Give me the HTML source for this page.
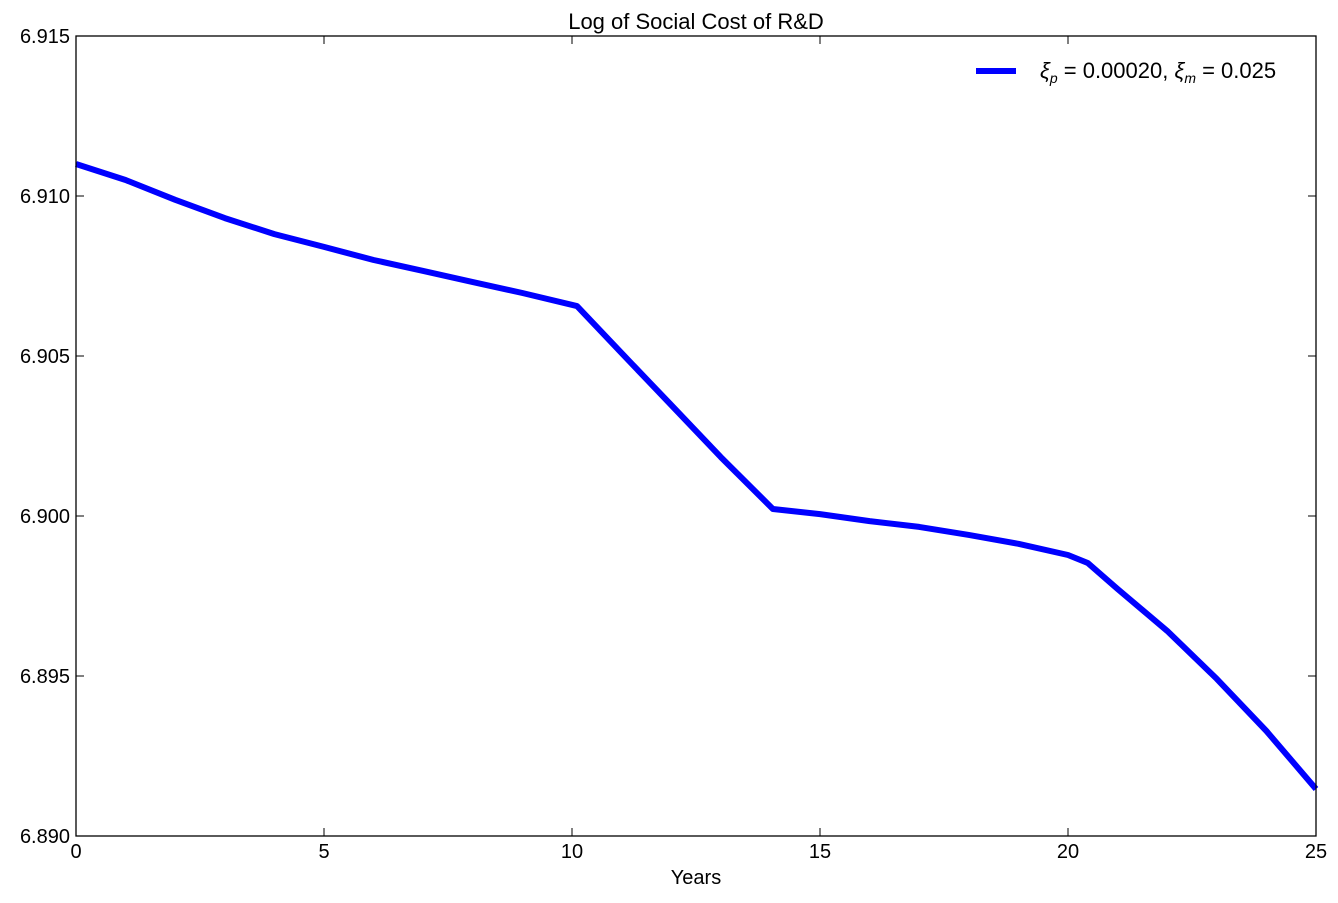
<!DOCTYPE html>
<html><head><meta charset="utf-8"><style>
body{margin:0;background:#fff;}
svg text{font-family:"Liberation Sans",sans-serif;}
</style></head><body>
<svg id="chart" width="1338" height="898" xmlns="http://www.w3.org/2000/svg">
<text x="696" y="29" font-size="22" text-anchor="middle">Log of Social Cost of R&amp;D</text>
<g id="ticks"></g>
<path id="line" fill="none" stroke="#0000ff" stroke-width="6" stroke-linejoin="round"/>
<rect x="76" y="36" width="1240" height="800" fill="none" stroke="#000" stroke-width="1.3"/>
<text x="696" y="884" font-size="20" text-anchor="middle">Years</text>
<g>
<line x1="976" y1="71" x2="1016" y2="71" stroke="#0000ff" stroke-width="6"/>
<text x="1040" y="78" font-size="22" font-family="Liberation Serif,serif" font-style="italic">ξ<tspan font-size="14" dy="5">p</tspan><tspan dy="-5" font-style="normal"> = 0.00020, </tspan>ξ<tspan font-size="14" dy="5">m</tspan><tspan dy="-5" font-style="normal"> = 0.025</tspan></text>
</g>
</svg>
<script>
const years=[0,1,2,3,4,5,6,7,8,9,10.1,11,12,13,14.05,15,16,17,18,19,20,20.4,21,22,23,24,25];
const values=[6.9110,6.9105,6.90988,6.90931,6.90881,6.90841,6.90800,6.90766,6.90731,6.90697,6.90656,6.90509,6.90347,6.90184,6.90022,6.90006,6.89984,6.89966,6.89941,6.89913,6.89878,6.89853,6.89772,6.89641,6.89491,6.89328,6.89147];
const xTicks=[0,5,10,15,20,25];
const yTicks=[6.890,6.895,6.900,6.905,6.910,6.915];
const X0=76,X1=1316,Y0=836,Y1=36,xmin=0,xmax=25,ymin=6.890,ymax=6.915;
const sx=v=>X0+(v-xmin)/(xmax-xmin)*(X1-X0);
const sy=v=>Y0-(v-ymin)/(ymax-ymin)*(Y0-Y1);
const NS="http://www.w3.org/2000/svg";
const g=document.getElementById('ticks');
function mk(t,a){const e=document.createElementNS(NS,t);for(const k in a)e.setAttribute(k,a[k]);g.appendChild(e);return e;}
xTicks.forEach(v=>{const x=sx(v);
mk('line',{x1:x,y1:Y0,x2:x,y2:Y0-8,stroke:'#000'});
mk('line',{x1:x,y1:Y1,x2:x,y2:Y1+8,stroke:'#000'});
const t=mk('text',{x:x,y:858,'font-size':20,'text-anchor':'middle'});t.textContent=v;

});
yTicks.forEach(v=>{const y=sy(v);
mk('line',{x1:X0,y1:y,x2:X0+8,y2:y,stroke:'#000'});
mk('line',{x1:X1,y1:y,x2:X1-8,y2:y,stroke:'#000'});
const t=mk('text',{x:70,y:y+7,'font-size':20,'text-anchor':'end'});t.textContent=v.toFixed(3);

});
document.getElementById('line').setAttribute('d',years.map((v,i)=>(i?'L':'M')+sx(v).toFixed(1)+','+sy(values[i]).toFixed(1)).join(''));
</script>
</body></html>
